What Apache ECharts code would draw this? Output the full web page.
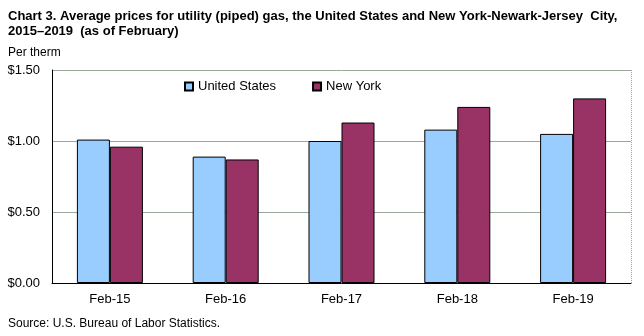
<!DOCTYPE html>
<html><head><meta charset="utf-8">
<script src="https://cdn.jsdelivr.net/npm/echarts@6/dist/echarts.min.js"></script>
<style>html,body{margin:0;padding:0;background:#fff}#c{width:644px;height:336px}</style>
</head><body><div id="c"></div>
<script>
const categories = ['Feb-15','Feb-16','Feb-17','Feb-18','Feb-19'];
const usValues = [1.01, 0.89, 1.00, 1.08, 1.05];
const nyValues = [0.96, 0.87, 1.13, 1.24, 1.30];
const seriesNames = ['United States', 'New York'];
const yTicks = [0, 0.5, 1.0, 1.5];

const chart = echarts.init(document.getElementById('c'), null, {renderer:'canvas'});
const sans = '"Liberation Sans", Arial, sans-serif';
chart.setOption({
  animation: false,
  backgroundColor: '#fff',
  title: [
    {text: 'Chart 3. Average prices for utility (piped) gas, the United States and New York-Newark-Jersey  City,\n2015\u20132019  (as of February)',
     left: 3, top: 4, textStyle:{fontFamily: sans, fontWeight:'bold', fontSize: 13, color:'#000', lineHeight: 15}},
    {text: 'Per therm', left: 3, top: 42, textStyle:{fontFamily: sans, fontWeight:'normal', fontSize: 12, color:'#000'}},
    {text: 'Source: U.S. Bureau of Labor Statistics.', left: 3, top: 313, textStyle:{fontFamily: sans, fontWeight:'normal', fontSize: 12, color:'#000'}}
  ],
  legend: {
    data: seriesNames, left: 179, top: 75, itemWidth: 8, itemHeight: 8, itemGap: 36,
    icon: 'rect',
    textStyle: {fontFamily: sans, fontSize: 13, color:'#000'}
  },
  grid: {left: 52, right: 13, top: 70, bottom: 53, containLabel: false},
  xAxis: {
    type: 'category', data: categories,
    axisLine: {lineStyle:{color:'#000', width:1}},
    axisTick: {show:false},
    axisLabel: {fontFamily: sans, fontSize: 13, color:'#000', margin: 10}
  },
  yAxis: {
    type: 'value', min: yTicks[0], max: yTicks[yTicks.length-1], interval: 0.5,
    axisLine: {show:true, lineStyle:{color:'#000', width:1}},
    axisTick: {show:false},
    splitLine: {lineStyle:{color:'#9aa89a', width:1}},
    axisLabel: {fontFamily: sans, fontSize: 13, color:'#000', margin: 12,
      formatter: v => '$' + v.toFixed(2)}
  },
  series: [
    {name: seriesNames[0], type:'bar', data: usValues, barWidth: 33, barGap: '0%',
     itemStyle:{color:'#99ccff', borderColor:'#000', borderWidth:1}},
    {name: seriesNames[1], type:'bar', data: nyValues, barWidth: 33, barGap: '0%',
     itemStyle:{color:'#993366', borderColor:'#000', borderWidth:1}}
  ],
  graphic: [
    {type:'line', shape:{x1:631.5, y1:70, x2:631.5, y2:283}, style:{stroke:'#9aa89a', lineWidth:1, lineDash:[1,1]}}
  ]
});
</script></body></html>
